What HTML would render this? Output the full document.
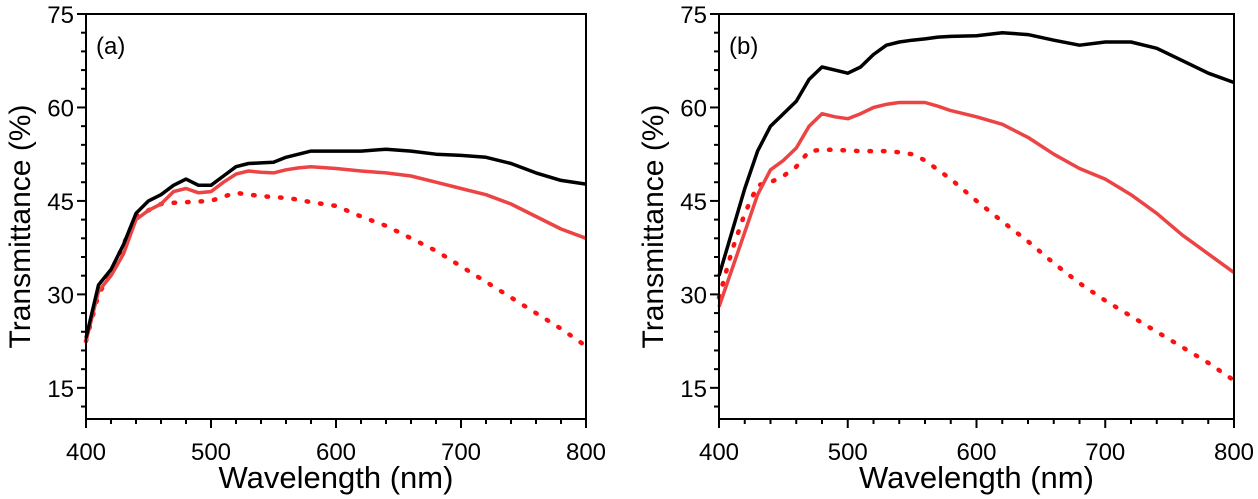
<!DOCTYPE html>
<html><head><meta charset="utf-8"><style>
body{margin:0;background:#fff}
svg{display:block;font-family:"Liberation Sans",Arial,sans-serif}
</style></head><body>
<svg id="chart" width="1258" height="499" viewBox="0 0 1258 499"></svg>
<script>
const wavelengths = [400,410,420,430,440,450,460,470,480,490,500,510,520,530,540,550,560,570,580,600,620,640,660,680,700,720,740,760,780,800];
const aBlack = [23,31.5,34,38,43,45,46,47.5,48.5,47.5,47.5,49,50.5,51,51.1,51.2,52,52.5,53,53,53,53.3,53,52.5,52.3,52,51,49.5,48.3,47.7];
const aRed = [22.5,30.5,33,36.5,42,43.5,44.5,46.5,47,46.3,46.5,48,49.3,49.8,49.6,49.5,50,50.3,50.5,50.2,49.8,49.5,49,48,47,46,44.5,42.5,40.5,39];
const aDotted = [22.5,30,33.5,38,42.5,43.5,44.5,44.7,44.8,44.9,45,45.7,46.3,46,45.8,45.6,45.5,45.2,44.8,44.2,42.5,41,39,37,34.5,32,29.5,27,24.5,21.7];
const bBlack = [33,40,47,53,57,59,61,64.5,66.5,66,65.5,66.5,68.5,70,70.5,70.8,71,71.3,71.4,71.5,72,71.7,70.8,70,70.5,70.5,69.5,67.5,65.5,64];
const bRed = [28,34,40,46,50,51.5,53.5,57,59,58.5,58.2,59,60,60.5,60.8,60.8,60.8,60.2,59.5,58.5,57.3,55.2,52.5,50.2,48.5,46,43,39.5,36.5,33.5];
const bDotted = [29.5,37,43,47.5,48,49,50.5,53,53.2,53.2,53.1,53,53,53,52.8,52.5,51.5,50,48.5,45,41.7,38.5,35,31.8,29,26.5,24,21.5,19,16.2];
const xTicks = [400,500,600,700,800];
const yTicks = [15,30,45,60,75];

const NS="http://www.w3.org/2000/svg";
const svg=document.getElementById('chart');
function mk(tag,attrs,parent){const e=document.createElementNS(NS,tag);for(const k in attrs)e.setAttribute(k,attrs[k]);(parent||svg).appendChild(e);return e;}

function panel(id,L,R,T,B,label,black,red,dotted){
  const g=mk('g',{});
  
  
  const xs=v=>L+(v-400)/400*(R-L);
  const ys=v=>B-(v-10)/65*(B-T);
  for(let v=400;v<=800;v+=20){const t=mk('line',{x1:xs(v),x2:xs(v),y1:B,y2:B+(v%100===0?9:5),stroke:'#000','stroke-width':2},g);
    }
  for(let v=12;v<=75;v+=3){const t=mk('line',{x1:L,x2:L-(v%15===0?9:5),y1:ys(v),y2:ys(v),stroke:'#000','stroke-width':2},g);
    }
  xTicks.forEach(v=>{const t=mk('text',{x:xs(v),y:B+41,'font-size':24,'text-anchor':'middle'},g);t.textContent=v;
    });
  yTicks.forEach(v=>{const t=mk('text',{x:L-12,y:ys(v)+9,'font-size':24,'text-anchor':'end'},g);t.textContent=v;
    });
  const xt=mk('text',{x:(L+R)/2,y:B+69,'font-size':31,'text-anchor':'middle'},g);xt.textContent='Wavelength (nm)';
  
  const yt=mk('text',{x:0,y:0,'font-size':30,'text-anchor':'middle',transform:`translate(${L-56},${(T+B)/2+10}) rotate(-90)`},g);yt.textContent='Transmittance (%)';
  
  const lb=mk('text',{x:L+10,y:T+40,'font-size':24},g);lb.textContent=label;
  
  const path=arr=>arr.map((v,i)=>(i?'L':'M')+xs(wavelengths[i]).toFixed(1)+','+ys(v).toFixed(1)).join('');
  const d=mk('path',{d:path(dotted),fill:'none',stroke:'#ff1010','stroke-width':4.5,'stroke-dasharray':'1.5 12','stroke-linecap':'round'},g);
  
  const r=mk('path',{d:path(red),fill:'none',stroke:'#ec4444','stroke-width':3.5,'stroke-linejoin':'round'},g);
  
  const b=mk('path',{d:path(black),fill:'none',stroke:'#000','stroke-width':3.5,'stroke-linejoin':'round'},g);
  
  const f=mk('rect',{x:L,y:T,width:R-L,height:B-T,fill:'none',stroke:'#000','stroke-width':2},g);
  
}
panel('a',86,586,14,419,'(a)',aBlack,aRed,aDotted);
panel('b',719,1234,14,419,'(b)',bBlack,bRed,bDotted);
</script>
</body></html>
